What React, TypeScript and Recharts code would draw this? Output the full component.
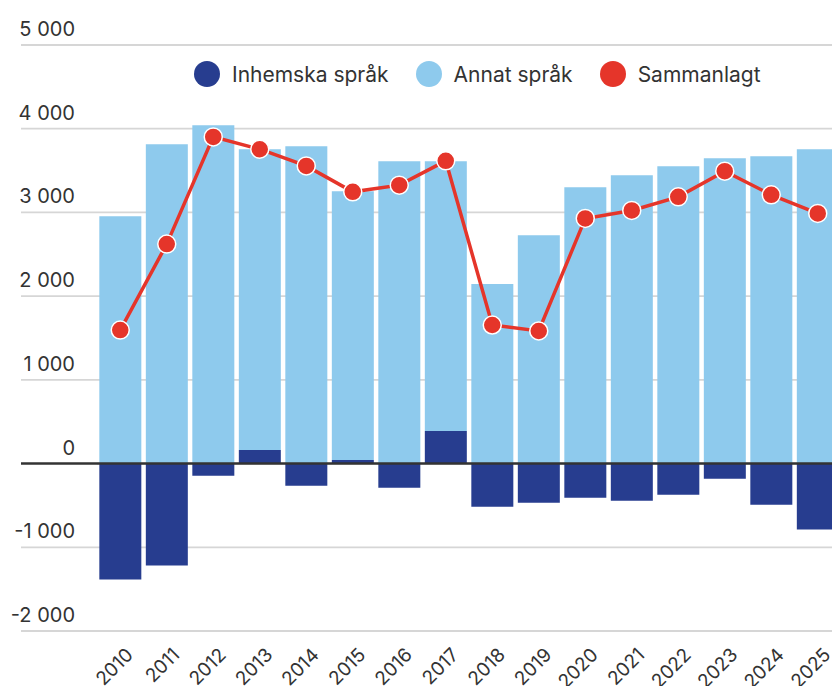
import {
  ComposedChart,
  Bar,
  Line,
  XAxis,
  YAxis,
  CartesianGrid,
  ReferenceLine,
} from "recharts";

const years = [
  "2010", "2011", "2012", "2013", "2014", "2015", "2016", "2017",
  "2018", "2019", "2020", "2021", "2022", "2023", "2024", "2025",
];
const inhemska = [
  -1385, -1218, -146, 163, -265, 44, -289, 389,
  -515, -468, -408, -444, -373, -182, -492, -789,
];
const annat = [
  2953, 3815, 4042, 3592, 3791, 3210, 3612, 3223,
  2144, 2728, 3302, 3445, 3552, 3648, 3672, 3755,
];
const sammanlagt = [
  1595, 2622, 3902, 3755, 3556, 3246, 3326, 3616,
  1655, 1584, 2928, 3024, 3186, 3493, 3210, 2988,
];
const yTicks = [-2000, -1000, 0, 1000, 2000, 3000, 4000, 5000];

const legendItems = [
  { name: "Inhemska språk", color: "#273d8f" },
  { name: "Annat språk", color: "#8ecaed" },
  { name: "Sammanlagt", color: "#e5352a" },
];

const data = years.map((year, i) => ({
  year,
  inhemska: inhemska[i],
  annat: annat[i],
  sammanlagt: sammanlagt[i],
}));

const FONT = "Inter, 'Noto Sans', sans-serif";
const TEXT = "#333333";
const PLOT_LEFT = 97;

const fmt = (v: number) => {
  const s = Math.abs(v).toString().replace(/\B(?=(\d{3})+(?!\d))/g, " ");
  return v < 0 ? "-" + s : s;
};

const YTick = (props: any) => {
  const { y, payload } = props;
  const zero = payload.value === 0;
  return (
    <g>
      <line
        x1={21}
        x2={PLOT_LEFT}
        y1={y}
        y2={y}
        stroke={zero ? "#333333" : "#d6d6d6"}
        strokeWidth={zero ? 2.5 : 1.8}
      />
      <text
        x={75}
        y={y - 9}
        textAnchor="end"
        fontSize={20}
        fontFamily={FONT}
        fill={TEXT}
      >
        {fmt(payload.value)}
      </text>
    </g>
  );
};

const XTick = (props: any) => {
  const { x, y, payload } = props;
  const tx = x + 14;
  const ty = y + 25;
  return (
    <text
      x={tx}
      y={ty}
      textAnchor="end"
      fontSize={19}
      fontFamily={FONT}
      fill={TEXT}
      transform={`rotate(-45, ${tx}, ${ty})`}
    >
      {payload.value}
    </text>
  );
};

export default function App() {
  return (
    <div
      style={{
        position: "absolute",
        left: 0,
        top: 0,
        width: 832,
        height: 686,
        overflow: "hidden",
        background: "#fff",
      }}
    >
      <ComposedChart
        width={841}
        height={686}
        data={data}
        stackOffset="sign"
        barCategoryGap="5%"
        margin={{ top: 45, right: 0, bottom: 0, left: 0 }}
      >
        <CartesianGrid vertical={false} stroke="#d6d6d6" strokeWidth={1.8} />
        <XAxis
          dataKey="year"
          axisLine={false}
          tickLine={false}
          tickSize={0}
          tickMargin={0}
          height={55}
          interval={0}
          tick={<XTick />}
        />
        <YAxis
          width={PLOT_LEFT}
          domain={[-2000, 5000]}
          ticks={yTicks}
          axisLine={false}
          tickLine={false}
          tick={<YTick />}
        />
        <Bar dataKey="inhemska" stackId="a" fill="#273d8f" isAnimationActive={false} />
        <Bar dataKey="annat" stackId="a" fill="#8ecaed" isAnimationActive={false} />
        <ReferenceLine y={0} stroke="#333333" strokeWidth={2.5} />
        <Line
          dataKey="sammanlagt"
          stroke="#e5352a"
          strokeWidth={3.5}
          dot={{ r: 9, fill: "#e5352a", stroke: "#ffffff", strokeWidth: 1.5 }}
          activeDot={false}
          isAnimationActive={false}
        />
      </ComposedChart>
      <div
        style={{
          position: "absolute",
          left: 194,
          top: 61,
          display: "flex",
          alignItems: "center",
          fontFamily: FONT,
          fontSize: 21,
          color: TEXT,
        }}
      >
        {legendItems.map((item) => (
          <div
            key={item.name}
            style={{ display: "flex", alignItems: "center", marginRight: 27 }}
          >
            <span
              style={{
                width: 26,
                height: 26,
                borderRadius: "50%",
                background: item.color,
                marginRight: 12,
                display: "inline-block",
              }}
            />
            <span>{item.name}</span>
          </div>
        ))}
      </div>
    </div>
  );
}
